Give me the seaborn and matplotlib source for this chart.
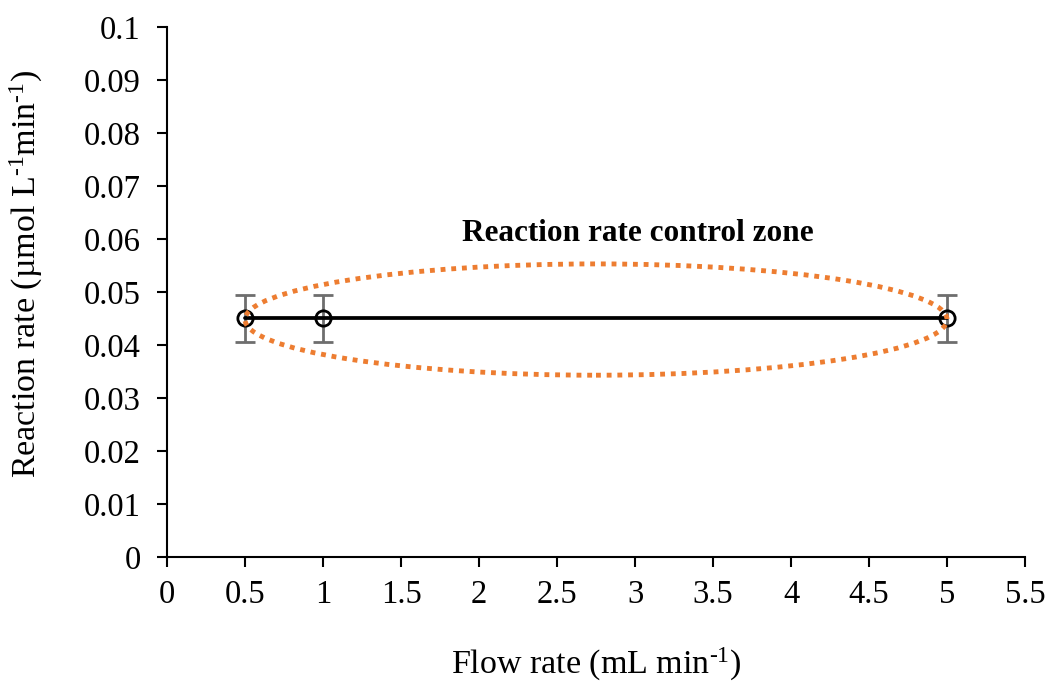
import numpy as np
import pandas as pd
import matplotlib
matplotlib.use("Agg")
import matplotlib.pyplot as plt
import seaborn as sns
from matplotlib.patches import Ellipse
from matplotlib.ticker import FuncFormatter, MultipleLocator

# dados
flow_rate = [0.5, 1, 5]
reaction_rate = [0.045, 0.045, 0.045]
erro = [0.0045, 0.0045, 0.0045]

# zona de controle (elipse)
zona_centro = (2.75, 0.0448)
zona_largura = 4.5
zona_altura = 0.021
zona_texto = "Reaction rate control zone"

sns.set_style("ticks")
plt.rcParams['font.family'] = ['Liberation Serif', 'DejaVu Serif']
plt.rcParams['mathtext.fontset'] = 'custom'
plt.rcParams['mathtext.rm'] = 'Liberation Serif'
plt.rcParams['mathtext.default'] = 'regular'
for chave in ['text.color', 'axes.labelcolor', 'xtick.color', 'ytick.color', 'axes.edgecolor']:
    plt.rcParams[chave] = 'black'

df = pd.DataFrame({"Flow": flow_rate, "Rate": reaction_rate, "Erro": erro})

fig = plt.figure(figsize=(10.47, 6.84), dpi=100)
ax = fig.add_axes([0.1595, 0.1857, 0.8195, 0.7748])

ax.errorbar(df["Flow"], df["Rate"], yerr=df["Erro"], fmt="none",
            ecolor="#6e6e6e", elinewidth=2, capsize=7, capthick=2, zorder=2)
sns.lineplot(data=df, x="Flow", y="Rate", ax=ax, color="black", linewidth=2.7,
             marker="o", markersize=11, markerfacecolor="none",
             markeredgecolor="black", markeredgewidth=2, zorder=3)

elipse = Ellipse(zona_centro, zona_largura, zona_altura, fill=False,
                 edgecolor="#ED7D31", linewidth=3.5, linestyle=(0, (1, 1.2)), zorder=4)
ax.add_patch(elipse)

ax.text(3.016, 0.0611, zona_texto, fontsize=22.5, fontweight="bold", ha="center", va="center")

ax.set_xlim(0, 5.5)
ax.set_ylim(0, 0.1)
ax.xaxis.set_major_locator(MultipleLocator(0.5))
ax.yaxis.set_major_locator(MultipleLocator(0.01))
ax.xaxis.set_major_formatter(FuncFormatter(lambda v, p: f"{v:g}"))
ax.yaxis.set_major_formatter(FuncFormatter(lambda v, p: f"{round(v, 3):g}"))

ax.tick_params(axis="both", labelsize=23.5, length=7, width=1.5, direction="out")
ax.tick_params(axis="y", pad=12)
ax.tick_params(axis="x", pad=9)
for lado in ["top", "right"]:
    ax.spines[lado].set_visible(False)
for lado in ["left", "bottom"]:
    ax.spines[lado].set_linewidth(1.5)

ax.set_xlabel("Flow rate (mL min$^{\u20101}$)", fontsize=24.5)
ax.set_ylabel("Reaction rate (µmol L$^{\u20101}$min$^{\u20101}$)", fontsize=24.5)
ax.xaxis.set_label_coords(0.5, -0.168)
ax.yaxis.set_label_coords(-0.142, 0.534)

fig.savefig("out.png", dpi=100)
